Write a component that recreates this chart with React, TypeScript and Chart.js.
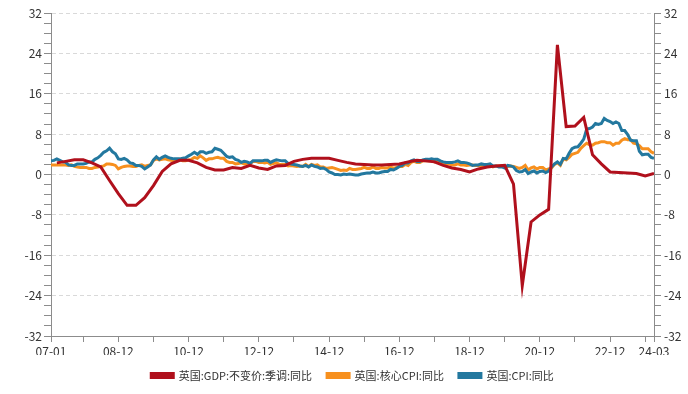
import React, { useEffect, useRef } from "react";
import { Chart, registerables } from "chart.js";

Chart.register(...registerables);

// Monthly series start at 07-01 (month index 0)
const startYear = 2007;

const cpiValues = [
  2.7, 2.8, 3.1, 2.8, 2.5, 2.4, 1.9, 1.8, 1.8, 2.1, 2.1, 2.1,
  2.2, 2.5, 2.5, 3.0, 3.3, 3.8, 4.4, 4.7, 5.2, 4.5, 4.1, 3.1,
  3.0, 3.2, 2.9, 2.3, 2.2, 1.8, 1.8, 1.6, 1.1, 1.5, 1.9, 2.9,
  3.5, 3.0, 3.4, 3.7, 3.4, 3.2, 3.1, 3.1, 3.1, 3.2, 3.3, 3.7,
  4.0, 4.4, 4.0, 4.5, 4.5, 4.2, 4.4, 4.5, 5.2, 5.0, 4.8, 4.2,
  3.6, 3.4, 3.5, 3.0, 2.8, 2.4, 2.6, 2.5, 2.2, 2.7, 2.7, 2.7,
  2.7, 2.8, 2.8, 2.4, 2.7, 2.9, 2.8, 2.7, 2.7, 2.2, 2.1, 2.0,
  1.9, 1.7, 1.6, 1.8, 1.5, 1.9, 1.6, 1.5, 1.2, 1.3, 1.0, 0.5,
  0.3, 0.0, 0.0, -0.1, 0.1, 0.0, 0.1, 0.0, -0.1, -0.1, 0.1, 0.2,
  0.3, 0.3, 0.5, 0.3, 0.3, 0.5, 0.6, 0.6, 1.0, 0.9, 1.2, 1.6,
  1.8, 2.3, 2.3, 2.7, 2.9, 2.6, 2.6, 2.9, 3.0, 3.0, 3.1, 3.0,
  3.0, 2.7, 2.5, 2.4, 2.4, 2.4, 2.5, 2.7, 2.4, 2.4, 2.3, 2.1,
  1.8, 1.9, 1.9, 2.1, 2.0, 2.0, 2.1, 1.7, 1.7, 1.5, 1.5, 1.3,
  1.8, 1.7, 1.5, 0.8, 0.5, 0.6, 1.0, 0.2, 0.5, 0.7, 0.3, 0.6,
  0.7, 0.4, 0.7, 1.5, 2.1, 2.5, 2.0, 3.2, 3.1, 4.2, 5.1, 5.4,
  5.5, 6.2, 7.0, 9.0, 9.1, 9.4, 10.1, 9.9, 10.1, 11.1, 10.7, 10.5,
  10.1, 10.4, 10.1, 8.7, 8.7, 7.9, 6.8, 6.7, 6.7, 4.6, 3.9, 4.0,
  4.0, 3.4, 3.2,
];

const coreCpiValues = [
  1.9, 1.9, 1.9, 1.9, 1.9, 1.9, 1.8, 1.9, 1.6, 1.5, 1.4, 1.4,
  1.4, 1.2, 1.2, 1.4, 1.5, 1.6, 1.7, 2.1, 2.1, 2.0, 1.8, 1.1,
  1.4, 1.6, 1.7, 1.7, 1.6, 1.6, 1.8, 1.9, 1.6, 1.8, 1.9, 2.8,
  3.1, 2.9, 3.0, 3.1, 2.9, 2.8, 2.7, 2.7, 2.9, 2.7, 2.7, 2.9,
  3.0, 3.4, 3.2, 3.7, 3.3, 2.8, 3.1, 3.1, 3.3, 3.4, 3.2, 3.2,
  2.6, 2.4, 2.4, 2.1, 2.2, 2.3, 2.1, 2.1, 2.1, 2.6, 2.6, 2.4,
  2.4, 2.3, 2.4, 2.0, 2.2, 2.3, 2.0, 2.0, 2.0, 1.7, 1.8, 1.7,
  1.6, 1.7, 1.6, 2.0, 1.6, 2.0, 1.8, 1.9, 1.5, 1.5, 1.2, 1.3,
  1.4, 1.2, 1.0, 0.8, 0.9, 0.8, 1.2, 1.0, 1.0, 1.1, 1.2, 1.4,
  1.2, 1.2, 1.5, 1.2, 1.2, 1.4, 1.3, 1.3, 1.5, 1.2, 1.4, 1.6,
  1.6, 2.0, 1.8, 2.4, 2.6, 2.4, 2.4, 2.7, 2.7, 2.7, 2.7, 2.5,
  2.7, 2.4, 2.3, 2.1, 2.1, 1.9, 1.9, 2.1, 1.9, 1.9, 1.8, 1.9,
  1.9, 1.8, 1.8, 1.8, 1.7, 1.8, 1.9, 1.5, 1.7, 1.7, 1.7, 1.4,
  1.6, 1.7, 1.6, 1.4, 1.2, 1.4, 1.8, 0.9, 1.3, 1.5, 1.1, 1.4,
  1.4, 0.9, 1.1, 1.3, 2.0, 2.3, 1.8, 3.1, 2.9, 3.4, 4.0, 4.2,
  4.4, 5.2, 5.7, 6.2, 5.9, 5.8, 6.2, 6.3, 6.5, 6.5, 6.3, 6.3,
  5.8, 6.2, 6.2, 6.8, 7.1, 6.9, 6.9, 6.2, 6.1, 5.7, 5.1, 5.1,
  5.1, 4.5, 4.2,
];

// Quarterly GDP, first quarter 07-03 (month index 2), then every 3 months
const gdpFirstMonth = 2;
const gdpValues = [
  2.3, 2.6, 2.9, 2.9,
  2.3, 1.5, -1.2, -3.8,
  -6.1, -6.1, -4.6, -2.2,
  0.6, 2.1, 2.8, 2.8,
  2.3, 1.4, 0.9, 0.9,
  1.4, 1.2, 1.8, 1.3,
  1.0, 1.7, 1.8, 2.6,
  3.0, 3.2, 3.2, 3.2,
  2.8, 2.4, 2.1, 2.0,
  1.9, 1.9, 2.0, 2.1,
  2.5, 2.8, 2.7, 2.5,
  1.8, 1.3, 1.0, 0.5,
  1.1, 1.5, 1.7, 1.8,
  -1.9, -22.0, -9.4, -8.0,
  -6.9, 25.7, 9.5, 9.6,
  11.3, 3.9, 2.1, 0.5,
  0.4, 0.3, 0.2, -0.3,
  0.2,
];

const xTickLabels = ["07-01", "08-12", "10-12", "12-12", "14-12", "16-12", "18-12", "20-12", "22-12", "24-03"];
const yTicks = [-32, -24, -16, -8, 0, 8, 16, 24, 32];

const seriesNames = ["英国:GDP:不变价:季调:同比", "英国:核心CPI:同比", "英国:CPI:同比"];
const seriesColors = ["#B0101C", "#F7901E", "#23789F"];

const labelToMonth = (s: string) => {
  const [yy, mm] = s.split("-").map(Number);
  return (2000 + yy - startYear) * 12 + (mm - 1);
};
const monthToLabel = (m: number) => {
  const y = (startYear - 2000) + Math.floor(m / 12);
  const mo = (m % 12) + 1;
  return String(y).padStart(2, "0") + "-" + String(mo).padStart(2, "0");
};

const xMin = labelToMonth(xTickLabels[0]);
const xMax = labelToMonth(xTickLabels[xTickLabels.length - 1]);
const labeledMonths = xTickLabels.map(labelToMonth);
const tickMonths: number[] = [];
tickMonths.push(xMin);
for (let m = 11; m < xMax; m += 12) tickMonths.push(m);
tickMonths.push(xMax);

const FONT = "'Noto Sans CJK SC', 'Noto Sans', sans-serif";

export default function App() {
  const ref = useRef<HTMLCanvasElement | null>(null);
  useEffect(() => {
    if (!ref.current) return;
    const gdpData = gdpValues.map((v, i) => ({ x: gdpFirstMonth + i * 3, y: v }));
    const coreData = coreCpiValues.map((v, i) => ({ x: i, y: v }));
    const cpiData = cpiValues.map((v, i) => ({ x: i, y: v }));
    const mk = (label: string, data: any[], color: string, order: number) => ({
      label,
      data,
      borderColor: color,
      backgroundColor: color,
      borderWidth: 3,
      pointRadius: 0,
      tension: 0,
      order,
    });
    const yCommon = (pos: "left" | "right", onArea: boolean) => ({
      type: "linear" as const,
      position: pos,
      min: yTicks[0],
      max: yTicks[yTicks.length - 1],
      ticks: {
        stepSize: 2,
        autoSkip: false,
        padding: pos === "left" ? 2 : 3,
        color: "#333",
        font: { family: FONT, size: 12 },
        callback: (v: any) => (Number(v) % 8 === 0 ? String(v) : ""),
      },
      grid: {
        drawOnChartArea: onArea,
        color: (ctx: any) => (ctx.tick && ctx.tick.value % 8 === 0 && ctx.tick.value > yTicks[0] ? "#d9d9d9" : "rgba(0,0,0,0)"),
        tickColor: "#8c8c8c",
        tickLength: 7,
        lineWidth: 1,
      },
      border: { display: true, color: "#8c8c8c", width: 1, dash: [4, 3] },
      afterFit: (s: any) => {
        s.width = pos === "left" ? 51 : 34;
      },
    });
    const chart = new Chart(ref.current, {
      type: "line",
      data: {
        datasets: [
          mk(seriesNames[0], gdpData, seriesColors[0], 0),
          mk(seriesNames[1], coreData, seriesColors[1], 2),
          mk(seriesNames[2], cpiData, seriesColors[2], 1),
        ],
      },
      options: {
        animation: false,
        responsive: false,
        maintainAspectRatio: false,
        layout: { padding: { top: 13, bottom: 3, left: 0, right: 0 } },
        plugins: {
          tooltip: { enabled: false },
          legend: {
            position: "bottom",
            fullSize: false,
            labels: {
              boxWidth: 22,
              boxHeight: 4,
              padding: 15,
              color: "#333",
              font: { family: FONT, size: 11 },
              sort: (a: any, b: any) => a.datasetIndex - b.datasetIndex,
            },
          },
        },
        scales: {
          x: {
            type: "linear",
            min: xMin,
            max: xMax,
            afterBuildTicks: (s: any) => {
              s.ticks = tickMonths.map((v) => ({ value: v }));
            },
            afterFit: (s: any) => {
              s.height = 19;
            },
            ticks: {
              autoSkip: false,
              maxRotation: 0,
              padding: 2,
              color: "#333",
              font: { family: FONT, size: 12 },
              callback: (v: any) => (labeledMonths.includes(Number(v)) ? monthToLabel(Number(v)) : ""),
            },
            grid: { drawOnChartArea: false, tickColor: "#8c8c8c", tickLength: 6 },
            border: { display: true, color: "#8c8c8c", width: 1 },
          },
          y: yCommon("left", true),
          y2: yCommon("right", false),
        },
      },
    } as any);
    return () => chart.destroy();
  }, []);
  return (
    <div style={{ position: "absolute", left: 0, top: 0, width: 688, height: 394, background: "#fff" }}>
      <canvas ref={ref} width={688} height={394} style={{ width: 688, height: 394 }} />
    </div>
  );
}
